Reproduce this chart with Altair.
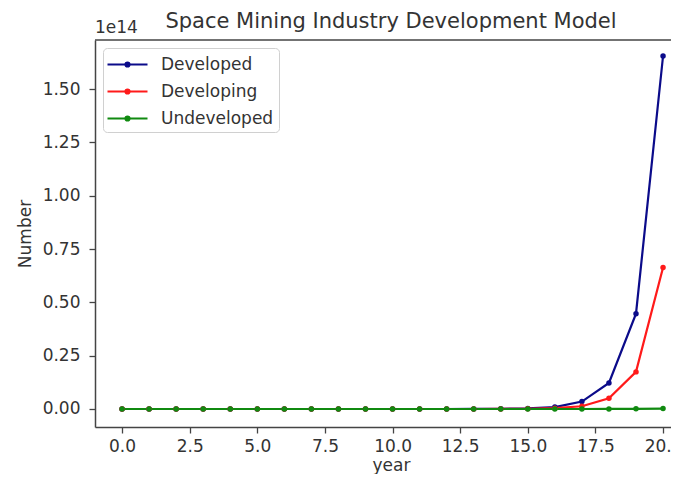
import altair as alt
import pandas as pd

# Values are in units of 1e14 (the axis offset text shown at the top-left)
years = list(range(21))
developed = [0.0, 0.0, 0.0, 0.0, 0.0, 0.0, 0.0, 0.0, 0.0, 0.0, 0.00001, 0.00003,
             0.0001, 0.0003, 0.0009, 0.0025, 0.009, 0.035, 0.122, 0.447, 1.655]
developing = [0.0, 0.0, 0.0, 0.0, 0.0, 0.0, 0.0, 0.0, 0.0, 0.0, 0.0, 0.00001,
              0.00003, 0.0001, 0.0003, 0.001, 0.004, 0.013, 0.05, 0.174, 0.663]
undeveloped = [0.0, 0.0, 0.0, 0.0, 0.0, 0.0, 0.0, 0.0, 0.0, 0.0, 0.0, 0.0,
               0.0, 0.0, 0.0, 0.00001, 0.00003, 0.0001, 0.0003, 0.0008, 0.002]
series = ["Developed", "Developing", "Undeveloped"]
colors = ["#0b0b8a", "#ff1a1a", "#108a10"]
x_ticks = [0, 2.5, 5, 7.5, 10, 12.5, 15, 17.5, 20]
y_ticks = [0, 0.25, 0.5, 0.75, 1.0, 1.25, 1.5]
title_text = "Space Mining Industry Development Model"

rows = []
for name, vals in zip(series, [developed, developing, undeveloped]):
    for yr, v in zip(years, vals):
        rows.append({"year": yr, "value": v, "series": name})
df = pd.DataFrame(rows)

W, H = 576, 387
X_MAX = -1 + W / 27.05
FONT = "DejaVu Sans"
TXT = "#333333"

legend_symbol = "M-2,0L2,0M-0.2,0A0.2,0.2,0,1,1,0.2,0A0.2,0.2,0,1,1,-0.2,0"

lines = alt.Chart(df).mark_line(
    strokeWidth=2.2,
    point=alt.OverlayMarkDef(filled=True, size=30),
).encode(
    x=alt.X("year:Q",
            scale=alt.Scale(domain=[-1, X_MAX], nice=False, zero=False),
            axis=alt.Axis(values=x_ticks, format=".1f", title="year",
                          titleY=38, titleX=296, titleBaseline="middle",
                          labelFlush=False, labelPadding=5, labelBound=False)),
    y=alt.Y("value:Q",
            scale=alt.Scale(domain=[-0.0844, 1.730], nice=False, zero=False),
            axis=alt.Axis(values=y_ticks, format=".2f", title="Number",
                          titleX=-70, titleBaseline="middle", labelPadding=9)),
    color=alt.Color("series:N",
                    scale=alt.Scale(domain=series, range=colors),
                    legend=alt.Legend(title=None, orient="none", legendX=8, legendY=8,
                                      fillColor="white", strokeColor="#d0d0d0",
                                      cornerRadius=4, padding=5,
                                      symbolType=legend_symbol, symbolSize=400,
                                      symbolOffset=8,
                                      symbolStrokeWidth=2.2, rowPadding=7,
                                      labelFontSize=17, labelFont=FONT, labelColor=TXT,
                                      labelOffset=22)),
)

one = pd.DataFrame({"k": [0]})
top_rule = alt.Chart(one).mark_rule(color="#444444", strokeWidth=1.5).encode(
    x=alt.value(0), x2=alt.value(W), y=alt.value(0))
offset_text = alt.Chart(one).mark_text(
    text="1e14", align="left", baseline="alphabetic", fontSize=17, font=FONT, color=TXT
).encode(x=alt.value(0), y=alt.value(-7))
title_mark = alt.Chart(one).mark_text(
    text=title_text, align="center", baseline="alphabetic", fontSize=21, font=FONT, color=TXT
).encode(x=alt.value(296), y=alt.value(-12))

chart = alt.layer(lines, top_rule, offset_text, title_mark).properties(
    width=W, height=H,
    padding={"left": 87, "top": 32, "right": 0, "bottom": 47},
    autosize=alt.AutoSizeParams(type="none"),
).configure_view(strokeWidth=0).configure_axis(
    grid=False, domainColor="#444444", domainWidth=1.5, tickColor="#444444",
    tickSize=6, tickWidth=1.3, labelFont=FONT, labelFontSize=17, labelColor=TXT,
    titleFont=FONT, titleFontSize=17, titleColor=TXT, titleFontWeight="normal",
)

chart.save("out.html", embed_options={"renderer": "svg", "actions": False})
